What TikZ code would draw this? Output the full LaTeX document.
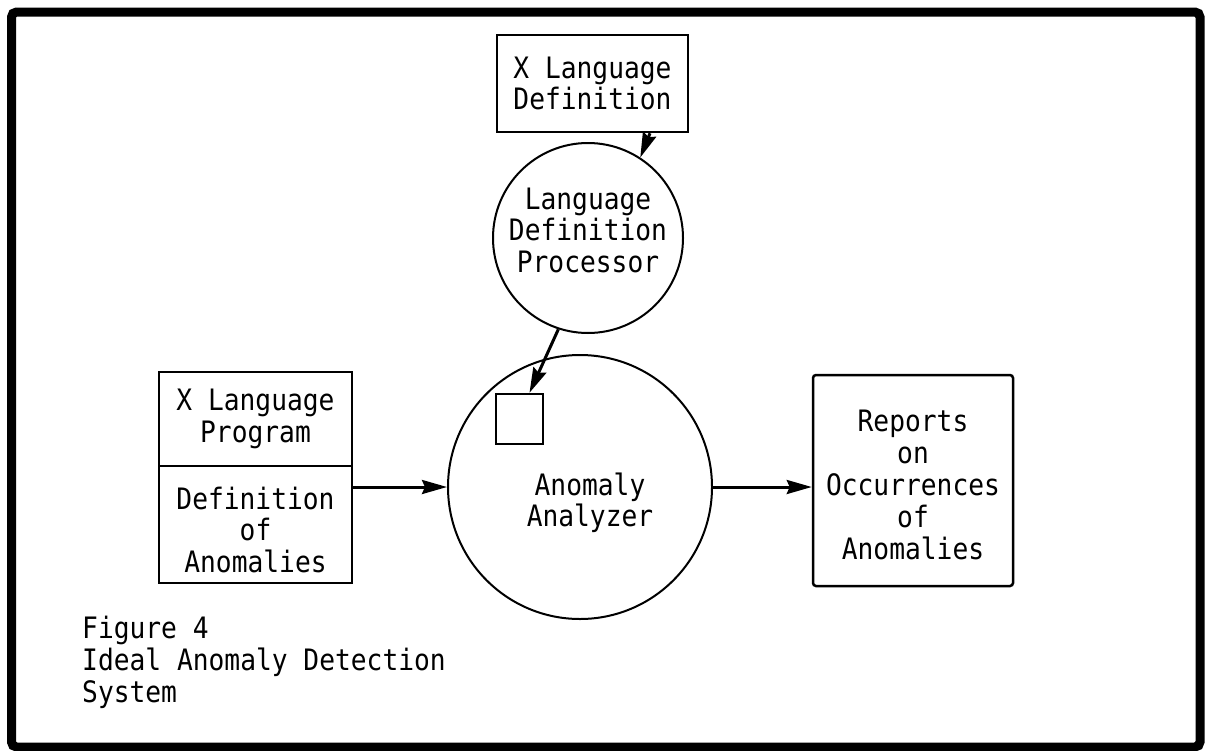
\documentclass[tikz,border=0pt]{standalone}
\usepackage{fontspec}
\setmonofont[FakeStretch=0.89]{DejaVu Sans Mono}
\usetikzlibrary{arrows.meta,calc}
\tikzset{
  typed/.style={font=\ttfamily\fontsize{29.5}{31.5}\selectfont, inner sep=0pt},
  lbl/.style={typed, align=center},
  boxnode/.style={draw, line width=2.5pt, rectangle, lbl},
  bubble/.style={draw, line width=2pt, circle, inner sep=0pt},
  flow/.style={line width=3pt, -{Stealth[length=25pt,width=14pt,inset=3pt]}},
}
\begin{document}
\begin{tikzpicture}[x=1pt,y=-1pt]
\path[use as bounding box] (0,0) rectangle (1208,750);
% heavy outer frame
\draw[line width=9pt, rounded corners=5pt] (11.5,12) rectangle (1200,747);

% language definition input
\node[boxnode, minimum width=191pt, minimum height=97pt] (xdef) at (592.5,83.5) {X Language\\Definition};

% processor bubble
\node[bubble, minimum size=190pt] (ldp) at (588,238) {};
\node[lbl] (ldptext) at (588,230) {Language\\Definition\\Processor};

% analyzer bubble with its embedded table
\node[bubble, minimum size=264pt] (aa) at (580,487) {};
\node[lbl] (aatext) at (590,503) {Anomaly\\Analyzer};
\node[draw, line width=2.5pt, minimum width=47pt, minimum height=50pt, inner sep=0pt] (sq) at (519.5,419) {};

% program input, two stacked sections
\node[boxnode, minimum width=193pt, minimum height=94pt] (lpt) at (255.5,419) {X Language\\Program};
\node[boxnode, minimum width=193pt, minimum height=117pt] (lpb) at (255.5,524.5) {};
\node[lbl] (lpbtext) at (255.5,529.5) {Definition\\of\\Anomalies};

% output reports
\node[boxnode, rounded corners=3pt, minimum width=200pt, minimum height=211pt] (rep) at (913,480.5) {};
\node[lbl, font=\ttfamily\fontsize{29.5}{32}\selectfont] (reptext) at (913,485) {Reports\\on\\Occurrences\\of\\Anomalies};

% connectors
\draw[flow] ([xshift=57.5pt]xdef.south) -- (ldp.57);
\draw[flow] (ldp.-108) -- ([xshift=10pt]sq.north);
\draw[flow] (lpb.east |- aa.west) -- (aa.west);
\draw[flow] (aa.east) -- (rep.west |- aa.east);

% caption
\node[typed, anchor=base west] (cap1) at (82,638) {Figure 4};
\node[typed, anchor=base west] (cap2) at (82,670) {Ideal Anomaly Detection};
\node[typed, anchor=base west] (cap3) at (82,702) {System};
\end{tikzpicture}
\end{document}
